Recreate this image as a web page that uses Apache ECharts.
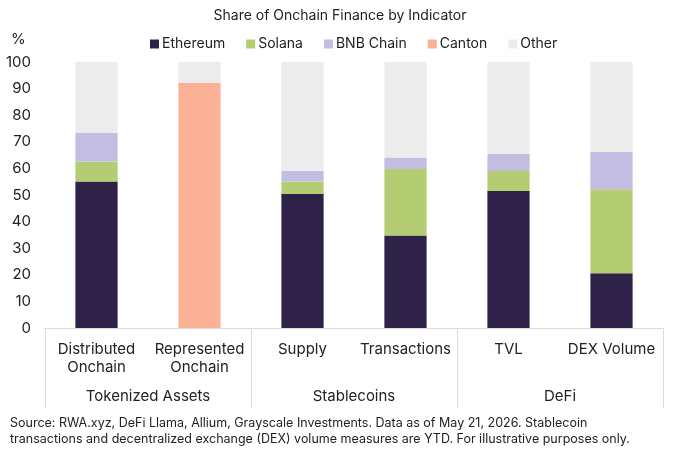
<!DOCTYPE html>
<html>
<head>
<meta charset="utf-8">
<script src="https://cdn.jsdelivr.net/npm/echarts@6/dist/echarts.min.js"></script>
<style>
  html, body { margin: 0; padding: 0; background: #fff; }
  #main { width: 680px; height: 454px; }
</style>
</head>
<body>
<div id="main"></div>
<script>
    var categories = ['Distributed\nOnchain', 'Represented\nOnchain', 'Supply', 'Transactions', 'TVL', 'DEX Volume'];
    var groups = ['Tokenized Assets', 'Stablecoins', 'DeFi'];
    var yTicks = [0, 10, 20, 30, 40, 50, 60, 70, 80, 90, 100];

    var ethereum = [55.1, null, 50.4, 34.8, 51.5, 20.6];
    var solana   = [7.5, null, 4.7, 25.0, 7.5, 31.6];
    var bnbChain = [10.7, null, 4.0, 4.3, 6.5, 14.0];
    var canton   = [null, 92.2, null, null, null, null];
    var other    = [26.7, 7.8, 40.9, 35.9, 34.5, 33.8];

    var font = 'Inter, "Noto Sans", sans-serif';
    var ink = '#222222';
    var lineColor = '#dcdcdc';

    var myChart = echarts.init(document.getElementById('main'));

    function bar(name, data, color) {
        return {
            name: name,
            type: 'bar',
            stack: 'share',
            data: data,
            barWidth: '41%',
            itemStyle: { color: color },
            emphasis: { disabled: true }
        };
    }

    option = {
        animation: false,
        textStyle: { fontFamily: font },
        title: {
            text: 'Share of Onchain Finance by Indicator',
            left: 'center',
            top: 4,
            textStyle: { fontFamily: font, fontSize: 14, fontWeight: 'normal', color: ink }
        },
        legend: {
            top: 32,
            left: 145,
            itemWidth: 9,
            itemHeight: 9,
            itemGap: 21,
            icon: 'rect',
            textStyle: { fontFamily: font, fontSize: 14, color: ink, padding: [0, 0, 0, -2] },
            data: ['Ethereum', 'Solana', 'BNB Chain', 'Canton', 'Other']
        },
        grid: { left: 45, right: 17, top: 62, bottom: 126 },
        xAxis: [
            {
                type: 'category',
                position: 'bottom',
                offset: 0,
                data: categories,
                axisLine: { lineStyle: { color: lineColor } },
                axisTick: { show: false },
                axisLabel: {
                    interval: 0,
                    margin: 12,
                    fontFamily: font,
                    fontSize: 15,
                    lineHeight: 18,
                    color: ink
                }
            },
            {
                type: 'category',
                position: 'bottom',
                offset: 0,
                data: groups,
                axisLine: { lineStyle: { color: lineColor } },
                axisTick: { show: true, length: 80, lineStyle: { color: lineColor } },
                axisLabel: {
                    interval: 0,
                    margin: 61,
                    fontFamily: font,
                    fontSize: 15,
                    color: ink
                }
            }
        ],
        yAxis: {
            type: 'value',
            min: yTicks[0],
            max: yTicks[yTicks.length - 1],
            interval: 10,
            axisLine: { show: false },
            axisTick: { show: false },
            splitLine: { show: false },
            axisLabel: { fontFamily: font, fontSize: 15, color: ink, margin: 14 }
        },
        graphic: [
            {
                type: 'text',
                left: 11,
                top: 32,
                style: { text: '%', fontFamily: font, fontSize: 15, fill: ink }
            },
            {
                type: 'text',
                left: 10,
                top: 415,
                style: {
                    text: 'Source: RWA.xyz, DeFi Llama, Allium, Grayscale Investments. Data as of May 21, 2026. Stablecoin\ntransactions and decentralized exchange (DEX) volume measures are YTD. For illustrative purposes only.',
                    fontFamily: font,
                    fontSize: 12.5,
                    lineHeight: 16,
                    fill: ink
                }
            }
        ],
        series: [
            bar('Ethereum', ethereum, '#2e2249'),
            bar('Solana', solana, '#b5cd72'),
            bar('BNB Chain', bnbChain, '#c3bde2'),
            bar('Canton', canton, '#fbb196'),
            bar('Other', other, '#ececec')
        ]
    };
    myChart.setOption(option);
</script>
</body>
</html>
